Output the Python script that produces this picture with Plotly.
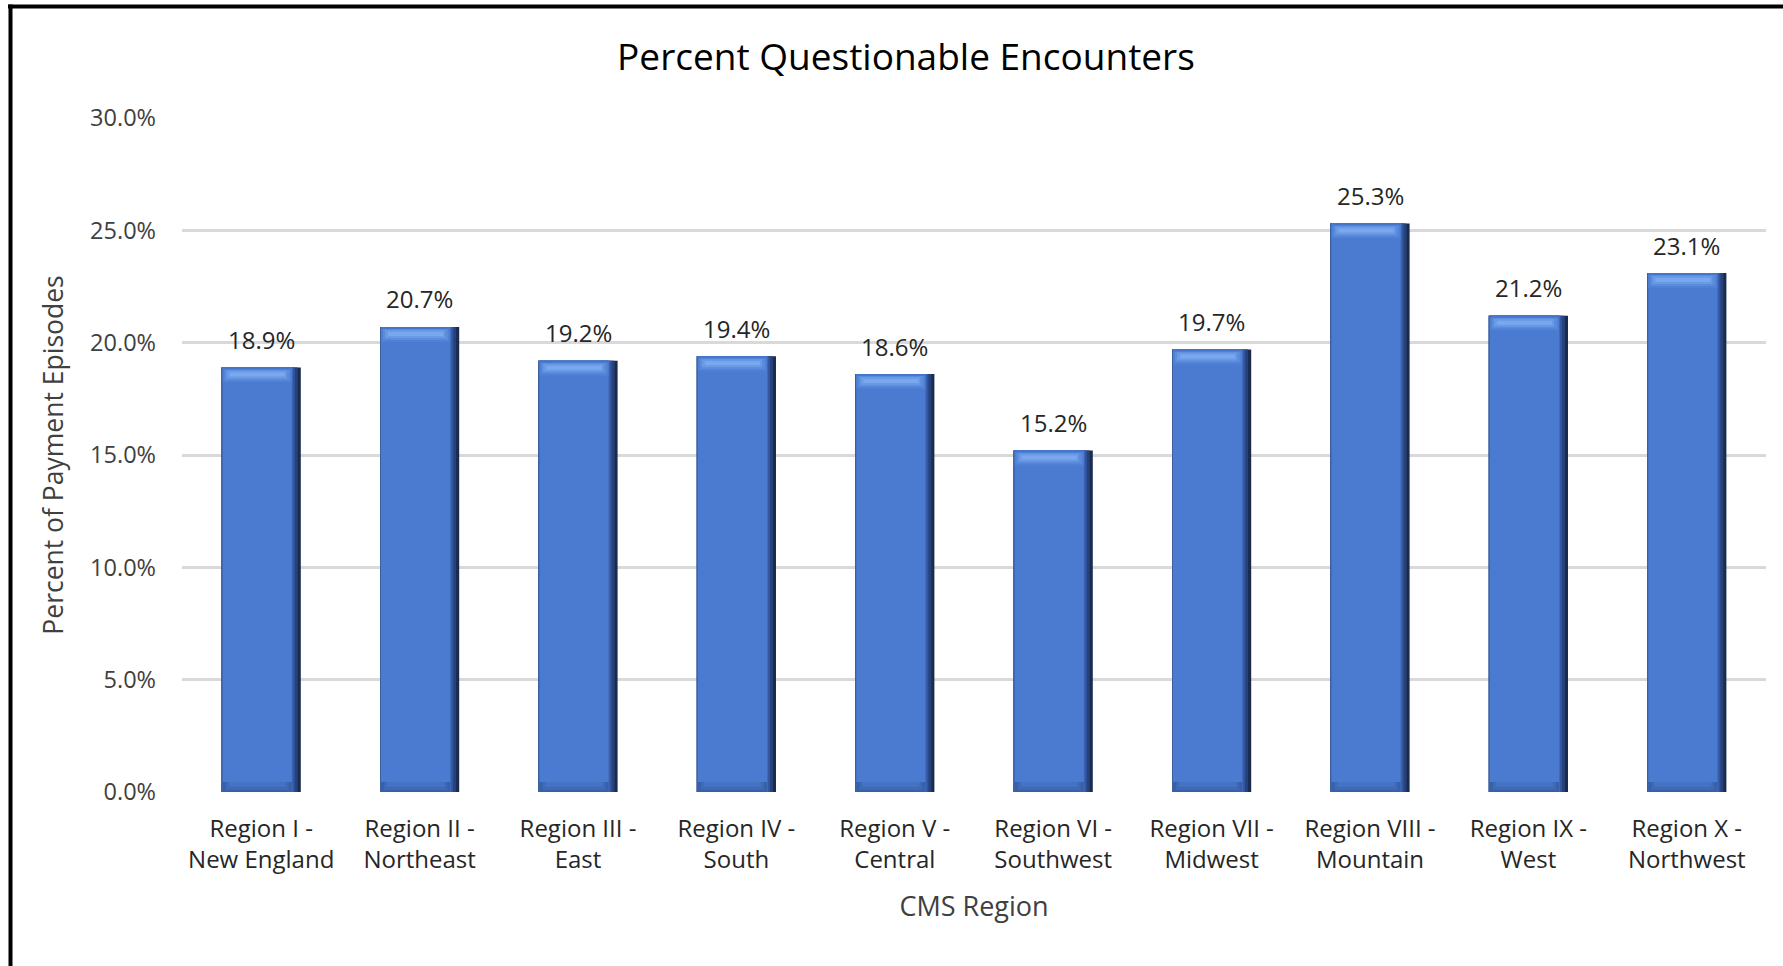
import plotly.graph_objects as go

# ---- data ----
categories = [
    "Region I -<br>New England", "Region II -<br>Northeast", "Region III -<br>East",
    "Region IV -<br>South", "Region V -<br>Central", "Region VI -<br>Southwest",
    "Region VII -<br>Midwest", "Region VIII -<br>Mountain", "Region IX -<br>West",
    "Region X -<br>Northwest",
]
values = [18.9, 20.7, 19.2, 19.4, 18.6, 15.2, 19.7, 25.3, 21.2, 23.1]
y_ticks = [0, 5, 10, 15, 20, 25, 30]

title_text = "Percent Questionable Encounters"
x_title = "CMS Region"
y_title = "Percent of Payment Episodes"

# ---- geometry / style ----
W, H = 1783, 966
ML, MR, MT, MB = 182, 17, 118, 174
PW, PH = W - ML - MR, H - MT - MB
FONT = "Open Sans"

BAR_W = 0.5
px_x = 1.0 / (PW / len(categories))  # category units per pixel
px_y = 30.0 / PH                      # data units per pixel
n = len(values)
left = -BAR_W / 2


def layer(width_px_less, off_px, color, y=None, base=None, hover=False):
    kw = dict(x=categories, y=values if y is None else y,
              width=BAR_W - width_px_less * px_x, offset=left + off_px * px_x,
              marker_color=color, marker_line_width=0, showlegend=False)
    if base is not None:
        kw["base"] = base
    if hover:
        kw["hovertemplate"] = "%{x}: %{y:.1f}%<extra></extra>"
    else:
        kw["hoverinfo"] = "skip"
    fig.add_trace(go.Bar(**kw))


fig = go.Figure()

# right-edge shading (dark to face colour)
layer(0, 0, "#1A2B4E")
layer(3, 0, "#26427A")
layer(6, 0, "#3456A0")
layer(8, 0, "#3F6AB8")
# left edge line
layer(9, 0, "#3B5F9F")
# main face
FACE_LESS, FACE_OFF = 10, 1
layer(FACE_LESS, FACE_OFF, "#4A7BD0", hover=True)

# top bevel: nested bands, each a little narrower (trapezoid look)
layer(FACE_LESS, FACE_OFF, "#4E80D3", y=[15 * px_y] * n, base=[v - 15 * px_y for v in values])
layer(FACE_LESS + 4, FACE_OFF + 2, "#5A8BDC", y=[12 * px_y] * n, base=[v - 13 * px_y for v in values])
layer(FACE_LESS + 9, FACE_OFF + 4, "#6A99E5", y=[8 * px_y] * n, base=[v - 11 * px_y for v in values])
layer(FACE_LESS + 14, FACE_OFF + 7, "#7AA8EE", y=[4 * px_y] * n, base=[v - 9 * px_y for v in values])
layer(FACE_LESS, FACE_OFF, "#4576CC", y=[2 * px_y] * n, base=[v - 2 * px_y for v in values])

# bottom bevel shadow
layer(FACE_LESS, FACE_OFF, "#3860A8", y=[10 * px_y] * n, base=[0] * n)
layer(FACE_LESS + 6, FACE_OFF + 3, "#3E69B5", y=[8 * px_y] * n, base=[2 * px_y] * n)
layer(FACE_LESS + 12, FACE_OFF + 6, "#4572C3", y=[5 * px_y] * n, base=[5 * px_y] * n)

# data labels
for c, v in zip(categories, values):
    fig.add_annotation(x=c, y=v, text=f"{v:.1f}%", showarrow=False, yshift=28,
                       font=dict(family=FONT, size=24, color="#262626"))

# frame lines (top and left)
fig.add_shape(type="line", xref="paper", yref="paper",
              x0=(8 - ML) / PW, x1=(W + 5 - ML) / PW,
              y0=(H - MB - 6.5) / PH, y1=(H - MB - 6.5) / PH,
              line=dict(color="#000000", width=4))
fig.add_shape(type="line", xref="paper", yref="paper",
              x0=(10.5 - ML) / PW, x1=(10.5 - ML) / PW,
              y0=(H - MB - 4.5) / PH, y1=(H - MB - H - 5) / PH,
              line=dict(color="#000000", width=4))

fig.update_layout(
    width=W, height=H,
    margin=dict(l=ML, r=MR, t=MT, b=MB, autoexpand=False),
    barmode="overlay",
    paper_bgcolor="white", plot_bgcolor="white",
    font=dict(family=FONT, color="#404040"),
    title=dict(text=title_text, x=906 / W, xanchor="center", y=1 - 57 / H, yanchor="middle",
               font=dict(family=FONT, size=37, color="#000000")),
    xaxis=dict(
        type="category", showgrid=False, showline=False, zeroline=False,
        ticks="", tickfont=dict(family=FONT, size=24, color="#262626"),
        title=dict(text=x_title, font=dict(family=FONT, size=27, color="#404040"), standoff=22),
        ticklabelstandoff=20,
    ),
    yaxis=dict(
        range=[0, 30], tickvals=y_ticks, ticktext=[f"{t:.1f}%" for t in y_ticks],
        showgrid=True, gridcolor="#D9D9D9", gridwidth=2.5, zeroline=False, showline=False,
        ticks="", tickfont=dict(family=FONT, size=23.5, color="#404040"),
        ticklabelstandoff=25,
        title=dict(text=y_title, font=dict(family=FONT, size=26.5, color="#404040"), standoff=18),
    ),
)

fig.write_html("out.html", config={"displayModeBar": False},
               post_script="document.body.style.margin='0';document.body.style.overflow='hidden';")
